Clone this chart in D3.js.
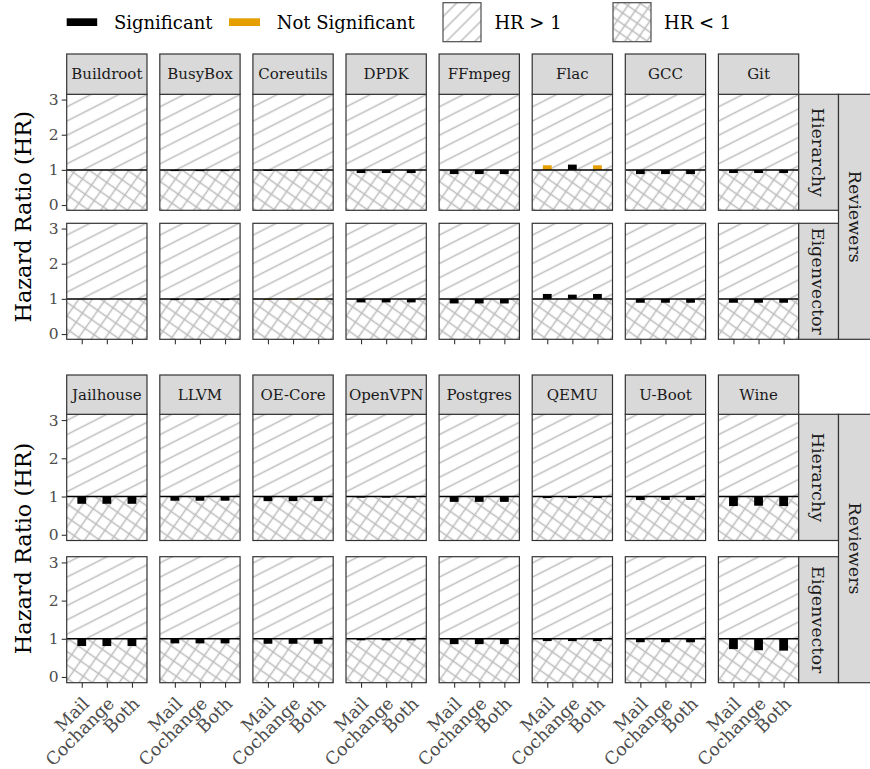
<!DOCTYPE html>
<html><head><meta charset="utf-8">
<script src="https://cdn.jsdelivr.net/npm/d3@7"></script>
<style>body{margin:0;background:#fff}svg{display:block}text{font-family:"DejaVu Serif",serif}</style>
</head><body><script>
// ---------------- data ----------------
const projectsTop = ["Buildroot","BusyBox","Coreutils","DPDK","FFmpeg","Flac","GCC","Git"];
const projectsBottom = ["Jailhouse","LLVM","OE-Core","OpenVPN","Postgres","QEMU","U-Boot","Wine"];
const networks = ["Mail","Cochange","Both"];
const measures = ["Hierarchy","Eigenvector"];
const groupLabel = "Reviewers";
const yTicks = [0,1,2,3];
// hazard ratios, one row per project (top projects then bottom projects), columns Mail/Cochange/Both
const hrHierarchy = [
  [1.00,1.00,1.00],[0.965,0.965,0.965],[0.97,0.97,0.97],[0.91,0.91,0.91],
  [0.88,0.88,0.88],[1.13,1.15,1.13],[0.88,0.88,0.88],[0.91,0.91,0.91],
  [0.81,0.81,0.81],[0.89,0.89,0.89],[0.88,0.88,0.88],[0.97,0.97,0.97],
  [0.86,0.86,0.86],[0.96,0.96,0.96],[0.91,0.91,0.91],[0.75,0.76,0.75]
];
const sigHierarchy = [
  [1,1,1],[1,1,1],[1,1,1],[1,1,1],[1,1,1],[0,1,0],[1,1,1],[1,1,1],
  [1,1,1],[1,1,1],[1,1,1],[1,1,1],[1,1,1],[1,1,1],[1,1,1],[1,1,1]
];
const hrEigenvector = [
  [1.00,1.00,1.00],[0.965,0.965,0.965],[0.975,0.975,0.975],[0.90,0.90,0.90],
  [0.87,0.87,0.87],[1.14,1.12,1.14],[0.89,0.89,0.89],[0.89,0.89,0.89],
  [0.81,0.81,0.81],[0.88,0.88,0.88],[0.87,0.87,0.87],[0.96,0.96,0.96],
  [0.86,0.86,0.86],[0.94,0.94,0.94],[0.91,0.91,0.91],[0.73,0.70,0.69]
];
const sigEigenvector = [
  [1,1,1],[1,1,1],[0,0,0],[1,1,1],[1,1,1],[1,1,1],[1,1,1],[1,1,1],
  [1,1,1],[1,1,1],[1,1,1],[1,1,1],[1,1,1],[1,1,1],[1,1,1],[1,1,1]
];
const legendLabels = ["Significant","Not Significant","HR > 1","HR < 1"];
const sigColors = ["#E69F00","#000000"]; // index by significance flag

// ---------------- layout ----------------
const W = 870, H = 769;
const svg = d3.select("body").append("svg").attr("width", W).attr("height", H);
const defs = svg.append("defs");
const hatchCol = "#bdbdbd", borderCol = "#333333";

function stripePattern(id, angle, spacing){
  const p = defs.append("pattern").attr("id", id).attr("patternUnits","userSpaceOnUse")
    .attr("width", 10).attr("height", spacing).attr("patternTransform", `rotate(${-angle})`);
  p.append("line").attr("x1",-1).attr("x2",11).attr("y1",spacing/2).attr("y2",spacing/2)
    .attr("stroke",hatchCol).attr("stroke-width",1.5);
}
function crossPattern(id, angle, spacing){
  const p = defs.append("pattern").attr("id", id).attr("patternUnits","userSpaceOnUse")
    .attr("width", spacing).attr("height", spacing).attr("patternTransform", `rotate(${-angle})`);
  p.append("line").attr("x1",-1).attr("x2",spacing+1).attr("y1",spacing/2).attr("y2",spacing/2)
    .attr("stroke",hatchCol).attr("stroke-width",1.5);
  p.append("line").attr("y1",-1).attr("y2",spacing+1).attr("x1",spacing/2).attr("x2",spacing/2)
    .attr("stroke",hatchCol).attr("stroke-width",1.5);
}
stripePattern("stripes", 27, 12.7);
crossPattern("cross", 55, 11);
stripePattern("stripesKey", 45, 10);
crossPattern("crossKey", 55, 9);

const col = d3.scaleBand().domain(d3.range(8)).range([66.7, 798.7]).paddingInner(0.1375).paddingOuter(0);
const bw = col.bandwidth();
const x = d3.scalePoint().domain(networks).range([0, bw]).padding(0.6);
const step = x.step();
const barW = step * 0.35;

const blocks = [
  {projects: projectsTop, offset: 0, stripTop: 54, rows: [[94.3,210.3],[223.3,339.3]], labels: false},
  {projects: projectsBottom, offset: 8, stripTop: 375, rows: [[414.3,540.5],[556.7,682.7]], labels: true}
];
const rightStripX0 = 798.7, rightStripX1 = 838.5;

blocks.forEach(b => {
  b.rows.forEach((rr, r) => {
    const y = d3.scaleLinear().domain([-0.15, 3.15]).range([rr[1], rr[0]]);
    const hr = r === 0 ? hrHierarchy : hrEigenvector;
    const sg = r === 0 ? sigHierarchy : sigEigenvector;
    b.projects.forEach((name, c) => {
      const p = b.offset + c;
      const g = svg.append("g").attr("transform", `translate(${col(c)},0)`);
      g.append("rect").attr("x",0).attr("width",bw).attr("y",y(3.15)).attr("height",y(1)-y(3.15))
        .attr("fill","url(#stripes)");
      g.append("rect").attr("x",0).attr("width",bw).attr("y",y(1)).attr("height",y(-0.15)-y(1))
        .attr("fill","url(#cross)");
      const rows = networks.map((n, i) => ({n, v: hr[p][i], s: sg[p][i]}));
      g.selectAll("rect.bar").data(rows).join("rect").attr("class","bar")
        .attr("x", d => x(d.n) - barW/2).attr("width", barW)
        .attr("y", d => y(Math.max(1, d.v))).attr("height", d => Math.abs(y(d.v) - y(1)))
        .attr("fill", d => sigColors[d.s]);
      g.append("line").attr("x1",0).attr("x2",bw).attr("y1",y(1)).attr("y2",y(1))
        .attr("stroke","#000").attr("stroke-width",1.5);
      g.append("rect").attr("x",0).attr("width",bw).attr("y",rr[0]).attr("height",rr[1]-rr[0])
        .attr("fill","none").attr("stroke",borderCol).attr("stroke-width",1.2);
      if (r === 0) {
        g.append("rect").attr("x",0).attr("width",bw).attr("y",b.stripTop).attr("height",rr[0]-b.stripTop)
          .attr("fill","#d9d9d9").attr("stroke",borderCol).attr("stroke-width",1.2);
        g.append("text").attr("x",bw/2).attr("y",(b.stripTop+rr[0])/2).attr("dy","0.35em")
          .attr("text-anchor","middle").attr("font-size",15).attr("fill","#1a1a1a").text(name);
      }
      if (r === 1) {
        const ax = g.append("g").attr("transform",`translate(0,${rr[1]})`)
          .call(d3.axisBottom(x).tickSize(5).tickSizeOuter(0));
        ax.select(".domain").remove();
        ax.selectAll(".tick line").attr("stroke",borderCol).attr("stroke-width",1.1);
        if (b.labels) {
          ax.selectAll(".tick text").attr("x",0).attr("y",0).attr("dy",0)
            .attr("text-anchor","end").attr("font-size",17.5).attr("fill","#4d4d4d")
            .attr("font-family","DejaVu Serif")
            .attr("transform","translate(8,22) rotate(-45)");
        } else {
          ax.selectAll(".tick text").remove();
        }
      }
    });
    // y axis on first column
    const ay = svg.append("g").attr("transform",`translate(${col(0)},0)`)
      .call(d3.axisLeft(y).tickValues(yTicks).tickSize(5).tickFormat(d3.format("d")));
    ay.select(".domain").remove();
    ay.selectAll(".tick line").attr("stroke",borderCol).attr("stroke-width",1.1);
    ay.selectAll(".tick text").attr("font-size",15.5).attr("fill","#4d4d4d").attr("x",-8)
      .attr("font-family","DejaVu Serif");
    // right strip (measure)
    svg.append("rect").attr("x",rightStripX0).attr("width",rightStripX1-rightStripX0)
      .attr("y",rr[0]).attr("height",rr[1]-rr[0]).attr("fill","#d9d9d9")
      .attr("stroke",borderCol).attr("stroke-width",1.2);
    svg.append("text").attr("transform",`translate(${(rightStripX0+rightStripX1)/2},${(rr[0]+rr[1])/2}) rotate(90)`)
      .attr("text-anchor","middle").attr("dy","0.35em").attr("font-size",17.5).attr("fill","#1a1a1a")
      .text(measures[r]);
  });
  // outer strip (group)
  const top = b.rows[0][0], bot = b.rows[1][1];
  svg.append("rect").attr("x",rightStripX1).attr("width",40).attr("y",top).attr("height",bot-top)
    .attr("fill","#d9d9d9").attr("stroke",borderCol).attr("stroke-width",1.2);
  svg.append("text").attr("transform",`translate(${rightStripX1+17},${(top+bot)/2}) rotate(90)`)
    .attr("text-anchor","middle").attr("dy","0.35em").attr("font-size",17.5).attr("fill","#1a1a1a")
    .text(groupLabel);
  // y axis title
  svg.append("text").attr("transform",`translate(31,${(top+bot)/2}) rotate(-90)`)
    .attr("text-anchor","middle").attr("font-size",22.4).attr("fill","#000")
    .text("Hazard Ratio (HR)");
});

// ---------------- legend ----------------
const lg = svg.append("g");
lg.append("rect").attr("x",66.7).attr("y",18.3).attr("width",30.5).attr("height",7.7).attr("fill",sigColors[1]);
lg.append("text").attr("x",113.9).attr("y",28.5).attr("font-size",18).text(legendLabels[0]);
lg.append("rect").attr("x",229).attr("y",18.3).attr("width",31).attr("height",7.7).attr("fill",sigColors[0]);
lg.append("text").attr("x",276.7).attr("y",28.5).attr("font-size",18).text(legendLabels[1]);
lg.append("rect").attr("x",443).attr("y",2.7).attr("width",38).attr("height",39).attr("fill","url(#stripesKey)")
  .attr("stroke","#4d4d4d").attr("stroke-width",1.2);
lg.append("text").attr("x",494.4).attr("y",28.5).attr("font-size",18).text(legendLabels[2]);
lg.append("rect").attr("x",613).attr("y",2.7).attr("width",38).attr("height",39).attr("fill","url(#crossKey)")
  .attr("stroke","#4d4d4d").attr("stroke-width",1.2);
lg.append("text").attr("x",664).attr("y",28.5).attr("font-size",18).text(legendLabels[3]);
</script></body></html>
